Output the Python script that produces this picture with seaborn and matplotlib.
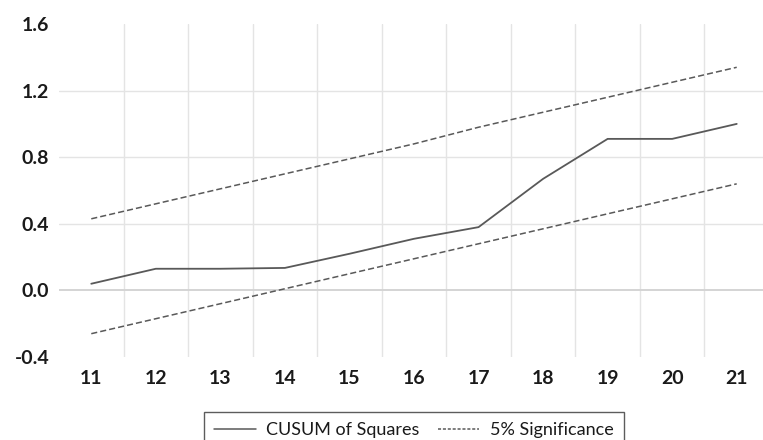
import matplotlib
matplotlib.use("Agg")
import matplotlib.pyplot as plt
import seaborn as sns
import pandas as pd
from matplotlib.lines import Line2D

periods = [11, 12, 13, 14, 15, 16, 17, 18, 19, 20, 21]
cusum_sq = [0.04, 0.13, 0.13, 0.135, 0.22, 0.31, 0.38, 0.67, 0.91, 0.91, 1.0]
upper_5 = [0.43, 0.52, 0.61, 0.70, 0.79, 0.88, 0.98, 1.07, 1.16, 1.25, 1.34]
lower_5 = [-0.26, -0.17, -0.08, 0.01, 0.10, 0.19, 0.28, 0.37, 0.46, 0.55, 0.64]
y_ticks = [-0.4, 0.0, 0.4, 0.8, 1.2, 1.6]
y_labels = ["-0.4", "0.0", "0.4", "0.8", "1.2", "1.6"]
series_names = ["CUSUM of Squares", "5% Significance"]

sns.set_theme(style="white")
plt.rcParams['font.family'] = ['Lato', 'DejaVu Sans']

fig = plt.figure(figsize=(7.63, 4.40), dpi=100)
W, H = 763, 440
left, right, top, bottom = 59, 769, 24, 357
ax = fig.add_axes([left / W, 1 - bottom / H, (right - left) / W, (bottom - top) / H])

df = pd.DataFrame({"t": periods, "cusum": cusum_sq, "up": upper_5, "lo": lower_5})
line_col = "#595959"
sns.lineplot(data=df, x="t", y="cusum", ax=ax, color=line_col, linewidth=1.3)
sns.lineplot(data=df, x="t", y="up", ax=ax, color=line_col, linewidth=1.1, linestyle=(0, (4, 2)))
sns.lineplot(data=df, x="t", y="lo", ax=ax, color=line_col, linewidth=1.1, linestyle=(0, (4, 2)))

ax.set_xlim(10.5, 21.5)
ax.set_ylim(-0.4, 1.6)
ax.set_xticks(periods)
ax.set_xticklabels([str(p) for p in periods])
ax.set_xticks([p + 0.5 for p in periods[:-1]], minor=True)
ax.set_yticks(y_ticks)
ax.set_yticklabels(y_labels)
ax.set_xlabel("")
ax.set_ylabel("")

for s in ax.spines.values():
    s.set_visible(False)

ax.grid(axis="x", which="minor", color="#e4e4e4", linewidth=1.0)
ax.grid(axis="y", which="major", color="#e4e4e4", linewidth=1.0)
ax.grid(axis="x", which="major", visible=False)
ygl = ax.yaxis.get_gridlines()
for val, gl in zip(y_ticks, ygl):
    if val in (-0.4, 1.6):
        gl.set_visible(False)
    if val == 0.0:
        gl.set_color("#d4d4d4")
        gl.set_linewidth(1.4)
ax.set_axisbelow(True)

ax.tick_params(axis="both", which="both", length=0, labelsize=14, labelcolor="#1a1a1a")
ax.tick_params(axis="x", pad=9)
ax.tick_params(axis="y", pad=7)
for lab in ax.get_xticklabels() + ax.get_yticklabels():
    lab.set_fontweight("bold")

handles = [
    Line2D([], [], color=line_col, linewidth=1.1),
    Line2D([], [], color=line_col, linewidth=1.1, linestyle=(0, (2, 1.2))),
]
leg = fig.legend(handles, series_names, loc="upper center",
                 bbox_to_anchor=(414 / W, 1 - 412 / H), ncol=2, frameon=True,
                 fancybox=False, fontsize=13, handlelength=2.3, columnspacing=1.0,
                 handletextpad=0.6, borderpad=0.55, borderaxespad=0.0,
                 edgecolor="#333333")
leg.get_frame().set_linewidth(1.0)
for t in leg.get_texts():
    t.set_color("#1a1a1a")

fig.savefig("out.png", dpi=100)
